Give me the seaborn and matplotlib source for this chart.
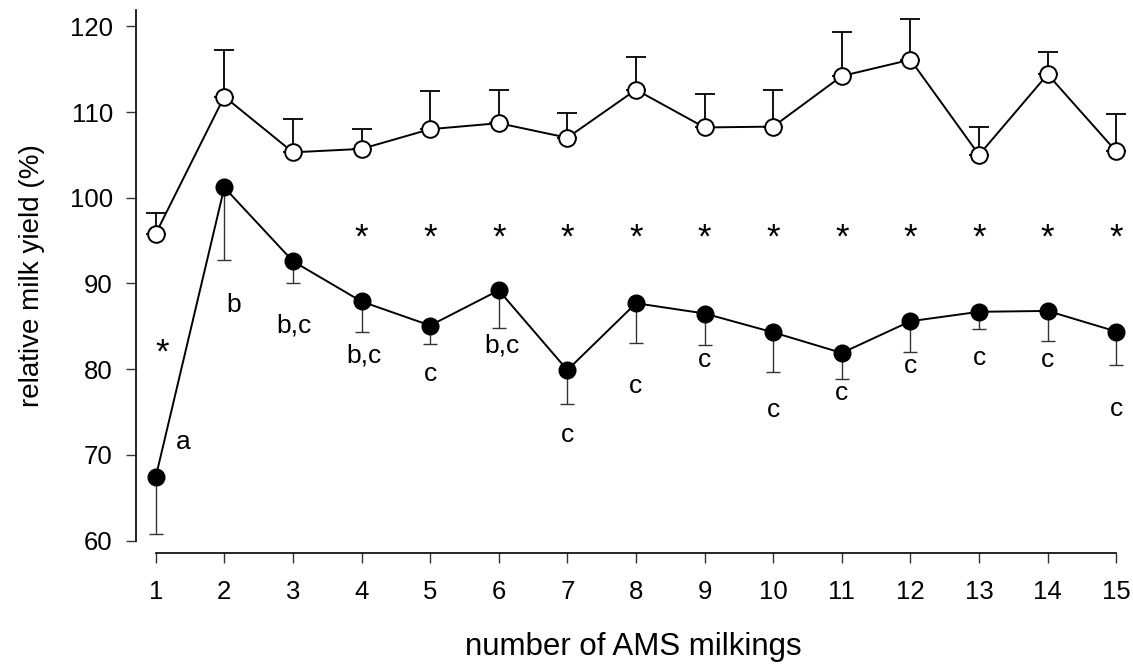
import numpy as np
import pandas as pd
import matplotlib
matplotlib.use("Agg")
import matplotlib.pyplot as plt
import matplotlib.transforms as mtransforms
import seaborn as sns

# Milking number
milkings = list(range(1, 16))

# Open circles: mean and upper SE
open_mean = [95.8, 111.8, 105.3, 105.7, 108.0, 108.7, 107.0, 112.6, 108.2, 108.3, 114.2, 116.1, 105.0, 114.4, 105.4]
open_err = [2.4, 5.4, 3.9, 2.3, 4.5, 3.9, 2.9, 3.8, 3.9, 4.3, 5.1, 4.8, 3.2, 2.6, 4.4]

# Filled circles: mean and lower SE
filled_mean = [67.4, 101.2, 92.6, 87.9, 85.1, 89.2, 79.9, 87.7, 86.5, 84.3, 81.9, 85.6, 86.7, 86.8, 84.4]
filled_err = [6.6, 8.5, 2.6, 3.5, 2.1, 4.4, 4.0, 4.6, 3.7, 4.6, 3.0, 3.6, 2.0, 3.5, 3.9]

# Significance stars between the two groups
star_x = [1.09, 4, 5, 6, 7, 8, 9, 10, 11, 12, 13, 14, 15]
star_y = [82.5, 95.9, 95.9, 95.9, 95.9, 95.9, 95.9, 95.9, 95.9, 95.9, 95.9, 95.9, 95.9]

# Letter groupings for the filled series
letter_text = ["a", "b", "b,c", "b,c", "c", "b,c", "c", "c", "c", "c", "c", "c", "c", "c", "c"]
letter_x = [1.40, 2.13, 3.02, 4.03, 5.0, 6.04, 7.0, 8.0, 9.0, 10.0, 11.0, 12.0, 13.0, 14.0, 15.0]
letter_y = [71.5, 87.5, 85.1, 81.6, 79.5, 82.8, 72.3, 78.1, 81.1, 75.2, 77.2, 80.4, 81.3, 81.1, 75.4]

sns.set_theme(style="ticks")
plt.rcParams["font.family"] = ["Liberation Sans", "DejaVu Sans"]

df = pd.DataFrame({
    "milking": milkings * 2,
    "yield": open_mean + filled_mean,
    "group": ["open"] * 15 + ["filled"] * 15,
})

fig = plt.figure(figsize=(11.33, 6.64), dpi=100)
ax = fig.add_axes([136 / 1133, 1 - 540.7 / 664, (1130 - 136) / 1133, (540.7 - 10) / 664])

# one-sided error bars
ax.errorbar(milkings, open_mean, yerr=[np.zeros(15), open_err], fmt="none",
            ecolor="black", elinewidth=1.3, capsize=7.2, capthick=1.3, zorder=1, clip_on=False)
ax.errorbar(milkings, filled_mean, yerr=[filled_err, np.zeros(15)], fmt="none",
            ecolor="#333333", elinewidth=1.0, capsize=4.8, capthick=1.0, zorder=1, clip_on=False)

sns.lineplot(data=df[df.group == "open"], x="milking", y="yield", ax=ax,
             color="black", linewidth=1.4, marker="o", markersize=12,
             markerfacecolor="white", markeredgecolor="black", markeredgewidth=1.4,
             zorder=3, clip_on=False)
sns.lineplot(data=df[df.group == "filled"], x="milking", y="yield", ax=ax,
             color="black", linewidth=1.4, marker="o", markersize=12,
             markerfacecolor="black", markeredgecolor="black", markeredgewidth=1.0,
             zorder=3, clip_on=False)

# the asterisk glyph sits high in its text box, so nudge it down
star_tr = mtransforms.offset_copy(ax.transData, fig=fig, y=-4, units="points")
for x, y in zip(star_x, star_y):
    ax.text(x, y, "*", ha="center", va="center", fontsize=25, color="black",
            transform=star_tr)
for t, x, y in zip(letter_text, letter_x, letter_y):
    ax.text(x, y, t, ha="center", va="center", fontsize=19, color="black")

ax.set_xlim(0.713, 15.2)
ax.set_ylim(60, 121.9)
ax.set_xticks(milkings)
ax.set_yticks(range(60, 121, 10))
ax.tick_params(axis="both", direction="out", length=7.2, width=1.0, labelsize=18.5,
               color="#333333", labelcolor="black")
ax.tick_params(axis="x", pad=12)
ax.tick_params(axis="y", pad=9.5)

sns.despine(ax=ax)
ax.spines["bottom"].set_position(("outward", 9))
ax.spines["bottom"].set_bounds(1, 15)
ax.spines["left"].set_bounds(60, 121.9)
for s in ("left", "bottom"):
    ax.spines[s].set_linewidth(1.2)
    ax.spines[s].set_color("black")

ax.set_xlabel("number of AMS milkings", fontsize=22.5, labelpad=20, color="black")
ax.set_ylabel("relative milk yield (%)", fontsize=20, labelpad=18, color="black")

fig.savefig("out.png", dpi=100)
